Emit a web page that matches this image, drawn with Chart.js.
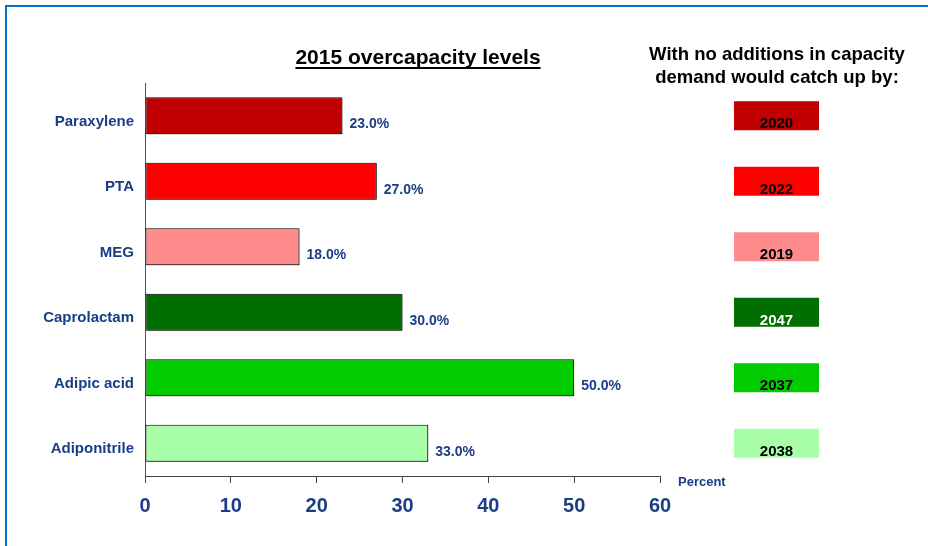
<!DOCTYPE html>
<html>
<head>
<meta charset="utf-8">
<script src="https://cdn.jsdelivr.net/npm/chart.js@4.4.1/dist/chart.umd.min.js"></script>
<style>
  html, body { margin: 0; padding: 0; background: #ffffff; }
  canvas { display: block; }
</style>
</head>
<body>
<canvas id="chart" width="928" height="546"></canvas>
<script>
// Products and their 2015 overcapacity (percent)
const categories = ['Paraxylene', 'PTA', 'MEG', 'Caprolactam', 'Adipic acid', 'Adiponitrile'];
const overcapacity = [23.0, 27.0, 18.0, 30.0, 50.0, 33.0];
// Year in which demand catches up with no capacity additions
const catchUpYears = ['2020', '2022', '2019', '2047', '2037', '2038'];
// Value axis ticks
const xTicks = [0, 10, 20, 30, 40, 50, 60];

// Styling
const barColors = ['#C00000', '#FF0000', '#FF8C8C', '#006E00', '#00CC00', '#A8FFA8'];
const yearTextColors = ['#000000', '#000000', '#000000', '#FFFFFF', '#000000', '#000000'];
const navy = '#1A3D86';
const FONT = '"Liberation Sans", Arial, Helvetica, sans-serif';

const overlay = {
  id: 'overlay',
  beforeDraw(chart) {
    const ctx = chart.ctx;
    ctx.save();
    ctx.fillStyle = '#ffffff';
    ctx.fillRect(0, 0, chart.width, chart.height);
    // frame: top and left rules
    ctx.fillStyle = '#0B6FCB';
    ctx.fillRect(5, 5, chart.width - 5, 2);
    ctx.fillRect(5, 5, 2, chart.height - 5);
    ctx.restore();
  },
  beforeDatasetsDraw(chart) {
    const ctx = chart.ctx;
    ctx.save();
    ctx.shadowColor = 'rgba(0,0,0,0.35)';
    ctx.shadowOffsetX = 2;
    ctx.shadowOffsetY = 1;
    ctx.shadowBlur = 0;
  },
  afterDatasetsDraw(chart) {
    const ctx = chart.ctx;
    ctx.restore();
    ctx.save();
    const meta = chart.getDatasetMeta(0);
    ctx.font = 'bold 14px ' + FONT;
    ctx.fillStyle = navy;
    ctx.textAlign = 'left';
    ctx.textBaseline = 'alphabetic';
    meta.data.forEach((bar, i) => {
      ctx.fillText(overcapacity[i].toFixed(1) + '%', bar.x + 7, bar.y + 12.5);
    });
    ctx.restore();
  },
  afterDraw(chart) {
    const ctx = chart.ctx;
    const yScale = chart.scales.y;
    ctx.save();

    // chart title, underlined
    ctx.font = 'bold 21px ' + FONT;
    ctx.fillStyle = '#000000';
    ctx.textAlign = 'center';
    ctx.textBaseline = 'alphabetic';
    const title = '2015 overcapacity levels';
    const tx = 418, ty = 64;
    ctx.fillText(title, tx, ty);
    const tw = ctx.measureText(title).width;
    ctx.fillRect(tx - tw / 2, ty + 3, tw, 2);

    // right-hand heading
    ctx.font = 'bold 18.5px ' + FONT;
    ctx.fillText('With no additions in capacity', 777, 60);
    ctx.fillText('demand would catch up by:', 777, 83);

    // catch-up year boxes
    ctx.font = 'bold 15px ' + FONT;
    catchUpYears.forEach((yr, i) => {
      const cy = yScale.getPixelForValue(i);
      const top = cy - 14.5;
      ctx.fillStyle = barColors[i];
      ctx.fillRect(734, top, 85, 29);
      ctx.fillStyle = yearTextColors[i];
      ctx.fillText(yr, 776.5, top + 27);
    });

    // axis unit
    ctx.font = 'bold 13px ' + FONT;
    ctx.fillStyle = navy;
    ctx.textAlign = 'left';
    ctx.fillText('Percent', 678, 486);
    ctx.restore();
  }
};

new Chart(document.getElementById('chart'), {
  type: 'bar',
  data: {
    labels: categories,
    datasets: [{
      data: overcapacity,
      backgroundColor: barColors,
      borderColor: '#000000',
      borderWidth: 1,
      borderSkipped: false,
      categoryPercentage: 1.0,
      barPercentage: 0.565
    }]
  },
  options: {
    indexAxis: 'y',
    responsive: false,
    animation: false,
    devicePixelRatio: 1,
    layout: { padding: { top: 83, right: 268, bottom: 0, left: 0 } },
    plugins: {
      legend: { display: false },
      tooltip: { enabled: false }
    },
    scales: {
      x: {
        min: 0,
        max: 60,
        afterBuildTicks: (s) => { s.ticks = xTicks.map(v => ({ value: v })); },
        afterFit: (s) => { s.height = 70; },
        grid: {
          drawOnChartArea: false,
          drawTicks: true,
          tickLength: 7,
          color: '#444444',
          lineWidth: 1
        },
        border: { display: true, color: '#444444', width: 1 },
        ticks: {
          color: navy,
          padding: 11,
          font: { family: FONT, size: 20, weight: 'bold' },
          maxRotation: 0
        }
      },
      y: {
        afterFit: (s) => { s.width = 145; },
        grid: { display: false, drawTicks: false },
        border: { display: true, color: '#555555', width: 1 },
        ticks: {
          color: navy,
          padding: 11,
          labelOffset: 6,
          font: { family: FONT, size: 15, weight: 'bold' }
        }
      }
    }
  },
  plugins: [overlay]
});
</script>
</body>
</html>
